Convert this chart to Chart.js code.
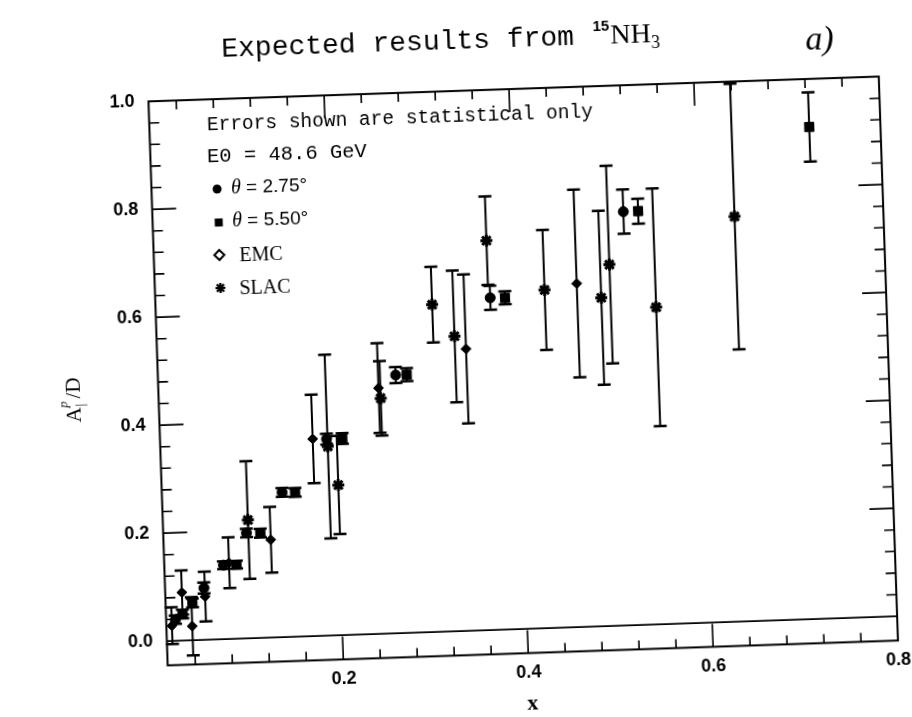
<!DOCTYPE html>
<html>
<head>
<meta charset="utf-8">
<script src="https://cdn.jsdelivr.net/npm/chart.js@4.4.0/dist/chart.umd.min.js"></script>
<style>
  html, body { margin: 0; padding: 0; background: #fff; overflow: hidden; }
  /* the scanned figure sits slightly tilted on the page */
  #wrap { width: 912px; height: 717px; transform: rotate(-1.95deg); transform-origin: 456px 358px; }
</style>
</head>
<body>
<div id="wrap"><canvas id="chart" width="912" height="717"></canvas></div>
<script>
// theta = 2.75 deg (circles)
const circX   = [0.020, 0.052, 0.074, 0.100, 0.140, 0.190, 0.267, 0.372, 0.519];
const circY   = [0.039, 0.096, 0.137, 0.195, 0.268, 0.364, 0.478, 0.615, 0.766];
const circErr = [0.008, 0.010, 0.007, 0.008, 0.008, 0.010, 0.015, 0.022, 0.041];

// theta = 5.50 deg (squares)
const sqX   = [0.028, 0.039, 0.088, 0.115, 0.154, 0.207, 0.279, 0.388, 0.535, 0.723];
const sqY   = [0.049, 0.069, 0.137, 0.194, 0.267, 0.364, 0.478, 0.614, 0.766, 0.911];
const sqErr = [0.008, 0.008, 0.007, 0.008, 0.008, 0.010, 0.012, 0.012, 0.023, 0.064];

// EMC (diamonds)
const emcX   = [0.016, 0.028, 0.038, 0.053, 0.080, 0.126, 0.175, 0.248, 0.344, 0.466];
const emcY   = [0.028, 0.089, 0.026, 0.080, 0.141, 0.181, 0.365, 0.455, 0.522, 0.636];
const emcErr = [0.034, 0.041, 0.054, 0.046, 0.047, 0.061, 0.082, 0.083, 0.138, 0.174];

// SLAC (stars)
const slacX   = [0.102, 0.191, 0.201, 0.250, 0.309, 0.332, 0.370, 0.431, 0.492, 0.502, 0.551, 0.639];
const slacY   = [0.219, 0.350, 0.278, 0.436, 0.606, 0.546, 0.721, 0.626, 0.608, 0.669, 0.587, 0.750];
const slacErr = [0.109, 0.170, 0.091, 0.069, 0.070, 0.122, 0.082, 0.111, 0.161, 0.183, 0.220, 0.246];

const xTicks = [0.2, 0.4, 0.6, 0.8];
const yTicks = [0.0, 0.2, 0.4, 0.6, 0.8, 1.0];

const pts = (xs, ys) => xs.map((x, i) => ({ x: x, y: ys[i] }));

// error bars with caps, drawn under the markers
const errorBars = {
    id: 'errorBars',
    beforeDatasetsDraw(chart) {
        const ctx = chart.ctx;
        const ys = chart.scales.y;
        ctx.save();
        ctx.strokeStyle = '#000';
        chart.data.datasets.forEach((ds, i) => {
            chart.getDatasetMeta(i).data.forEach((pt, j) => {
                const v = ds.data[j].y, e = ds.errors[j];
                const top = ys.getPixelForValue(v + e);
                const bot = ys.getPixelForValue(v - e);
                ctx.lineWidth = 2;
                ctx.beginPath();
                ctx.moveTo(pt.x, top); ctx.lineTo(pt.x, bot);
                ctx.stroke();
                ctx.lineWidth = 2.5;
                ctx.beginPath();
                ctx.moveTo(pt.x - 6.5, top); ctx.lineTo(pt.x + 6.5, top);
                ctx.moveTo(pt.x - 6.5, bot); ctx.lineTo(pt.x + 6.5, bot);
                ctx.stroke();
            });
        });
        ctx.restore();
    }
};

// box, zero line and inward ticks on all four sides
const frame = {
    id: 'frame',
    beforeDatasetsDraw(chart) {
        const { ctx, chartArea: a } = chart;
        const xs = chart.scales.x, ys = chart.scales.y;
        ctx.save();
        ctx.strokeStyle = '#000';
        ctx.lineWidth = 2;
        ctx.strokeRect(a.left, a.top, a.right - a.left, a.bottom - a.top);
        const y0 = ys.getPixelForValue(0);
        ctx.lineWidth = 1.6;
        ctx.beginPath(); ctx.moveTo(a.left, y0); ctx.lineTo(a.right, y0); ctx.stroke();
        ctx.beginPath();
        for (let k = 1; k < 20; k++) {
            const px = xs.getPixelForValue(k * 0.04);
            const len = k % 5 === 0 ? 23 : 9;
            ctx.moveTo(px, a.bottom); ctx.lineTo(px, a.bottom - len);
            ctx.moveTo(px, a.top); ctx.lineTo(px, a.top + len);
        }
        for (let k = 1; k < 25; k++) {
            const py = ys.getPixelForValue(k * 0.04);
            const len = k % 5 === 0 ? 24 : 10;
            ctx.moveTo(a.left, py); ctx.lineTo(a.left + len, py);
            ctx.moveTo(a.right, py); ctx.lineTo(a.right - len, py);
        }
        ctx.stroke();
        ctx.restore();
    }
};

function star(ctx, x, y, r) {
    ctx.beginPath();
    ctx.moveTo(x - r, y); ctx.lineTo(x + r, y);
    ctx.moveTo(x, y - r); ctx.lineTo(x, y + r);
    const d = r * 0.72;
    ctx.moveTo(x - d, y - d); ctx.lineTo(x + d, y + d);
    ctx.moveTo(x - d, y + d); ctx.lineTo(x + d, y - d);
    ctx.stroke();
}

// title, key, axis titles
const texts = {
    id: 'texts',
    afterDraw(chart) {
        const ctx = chart.ctx;
        ctx.save();
        ctx.fillStyle = '#000';
        ctx.strokeStyle = '#000';
        ctx.textBaseline = 'alphabetic';
        ctx.textAlign = 'left';

        // title
        let tx = 232;
        ctx.font = '28px "Liberation Mono"';
        ctx.fillText('Expected results from ', tx, 49);
        tx += ctx.measureText('Expected results from ').width + 2;
        ctx.font = 'bold 15px "Liberation Sans"';
        ctx.fillText('15', tx, 36);
        tx += ctx.measureText('15').width + 1;
        ctx.font = '28px "Liberation Serif"';
        ctx.fillText('NH', tx, 49);
        tx += ctx.measureText('NH').width;
        ctx.font = '18px "Liberation Serif"';
        ctx.fillText('3', tx, 55);

        ctx.font = 'italic 34px "Liberation Serif"';
        ctx.fillText('a)', 816, 62);

        // key
        ctx.font = '19.5px "Liberation Mono"';
        ctx.fillText('Errors shown are statistical only', 215, 122);
        ctx.font = '20.5px "Liberation Mono"';
        ctx.fillText('E0 = 48.6 GeV', 214, 154);

        ctx.beginPath(); ctx.arc(223, 181, 4.5, 0, Math.PI * 2); ctx.fill();
        ctx.fillRect(219.5, 210.5, 8, 8);
        ctx.lineWidth = 2;
        ctx.beginPath();
        ctx.moveTo(223, 242); ctx.lineTo(228, 247); ctx.lineTo(223, 252); ctx.lineTo(218, 247);
        ctx.closePath(); ctx.stroke();
        ctx.lineWidth = 2.2;
        star(ctx, 223, 280, 5);

        [['2.75°', 186], ['5.50°', 219]].forEach(([s, by]) => {
            ctx.font = 'italic 20px "Liberation Serif"';
            ctx.fillText('θ', 237, by);
            const w = ctx.measureText('θ').width;
            ctx.font = '19px "Liberation Sans"';
            ctx.fillText(' = ' + s, 237 + w, by);
        });
        ctx.font = '20px "Liberation Serif"';
        ctx.fillText('EMC', 243, 254);
        ctx.fillText('SLAC', 242, 287);

        // x title
        ctx.font = 'bold 22px "Liberation Serif"';
        ctx.textAlign = 'center';
        ctx.fillText('x', 521, 712);

        // y title, rotated
        ctx.translate(72, 387);
        ctx.rotate(-Math.PI / 2);
        ctx.textAlign = 'left';
        ctx.font = '21px "Liberation Serif"';
        const wA = ctx.measureText('A').width;
        const wD = ctx.measureText('/D').width;
        const total = wA + 9 + wD;
        let ox = -total / 2;
        ctx.fillText('A', ox, 7);
        ctx.font = 'italic 13px "Liberation Serif"';
        ctx.fillText('p', ox + wA, -6);
        ctx.font = '13px "Liberation Serif"';
        ctx.fillText('|', ox + wA + 1, 11);
        ctx.font = '21px "Liberation Serif"';
        ctx.fillText('/D', ox + wA + 9, 7);
        ctx.restore();
    }
};

const tickFont = { family: 'Liberation Sans', size: 18, weight: 'bold' };

new Chart(document.getElementById('chart').getContext('2d'), {
    type: 'scatter',
    data: {
        datasets: [
            {
                label: 'θ = 2.75°', data: pts(circX, circY), errors: circErr,
                pointStyle: 'circle', pointRadius: 5, borderWidth: 1,
                backgroundColor: '#000', borderColor: '#000'
            },
            {
                label: 'θ = 5.50°', data: pts(sqX, sqY), errors: sqErr,
                pointStyle: 'rect', pointRadius: 6.5, borderWidth: 1,
                backgroundColor: '#000', borderColor: '#000'
            },
            {
                label: 'EMC', data: pts(emcX, emcY), errors: emcErr,
                pointStyle: 'rectRot', pointRadius: 5, borderWidth: 1,
                backgroundColor: '#000', borderColor: '#000'
            },
            {
                label: 'SLAC', data: pts(slacX, slacY), errors: slacErr,
                pointStyle: 'star', pointRadius: 6, borderWidth: 3,
                backgroundColor: '#000', borderColor: '#000'
            }
        ]
    },
    options: {
        responsive: false,
        animation: false,
        devicePixelRatio: 1,
        layout: { padding: { top: 91.1, right: 23.9, left: 0, bottom: 0 } },
        scales: {
            x: {
                type: 'linear', min: 0.01, max: 0.8,
                grid: { display: false, drawTicks: false },
                border: { display: false },
                afterBuildTicks: s => { s.ticks = xTicks.map(v => ({ value: v })); },
                afterFit: s => { s.height = 61.6; },
                ticks: { padding: 9, color: '#000', font: tickFont, callback: v => v.toFixed(1) }
            },
            y: {
                type: 'linear', min: -0.045, max: 1.0,
                grid: { display: false, drawTicks: false },
                border: { display: false },
                afterBuildTicks: s => { s.ticks = yTicks.map(v => ({ value: v })); },
                afterFit: s => { s.width = 157.4; },
                ticks: { padding: 14, color: '#000', font: tickFont, callback: v => v.toFixed(1) }
            }
        },
        plugins: {
            legend: { display: false },
            tooltip: { enabled: false },
            title: { display: false }
        }
    },
    plugins: [frame, errorBars, texts]
});
</script>
</body>
</html>
